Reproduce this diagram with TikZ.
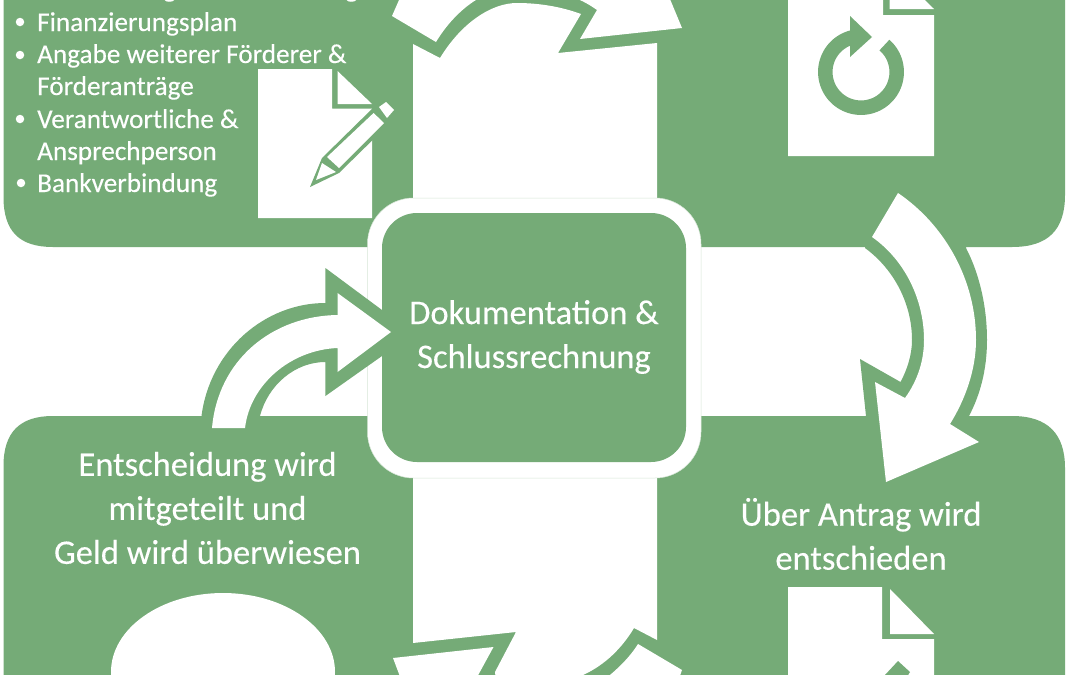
\documentclass[tikz,border=0pt]{standalone}
\usepackage{fontspec}
\usetikzlibrary{shapes.geometric}
\setmainfont[FakeBold=0.25]{Carlito}
\definecolor{gr}{HTML}{75AB77}
\tikzset{x=1pt,y=-1pt,
 panel/.style={fill=gr,draw=none},
 wh/.style={fill=white,draw=none},
 big/.style={text=white,font=\fontsize{34.5}{44}\selectfont,align=center,inner sep=0pt},
 small/.style={text=white,font=\fontsize{27.2}{32}\selectfont,anchor=base west,inner sep=0pt},
 bull/.style={circle,fill=white,inner sep=0pt,minimum size=8.5pt}}
\begin{document}
\begin{tikzpicture}
\useasboundingbox (0,0) rectangle (1080,675);
\clip (0,0) rectangle (1080,675);
\fill[white] (0,0) rectangle (1080,675);
% panels
\path[panel] (3.5,-10) -- (3.5,197) .. controls (3.5,232) and (20,247) .. (53,247) -- (413,247) -- (413,-10) -- cycle;
\path[panel] (413,-10) rectangle (657,60);
\path[panel] (657,-10) -- (657,247) -- (1012,247) .. controls (1048,247) and (1065,230) .. (1065,195) -- (1065,-10) -- cycle;
\path[panel] (3.5,685) -- (3.5,466) .. controls (3.5,432) and (20,416) .. (53,416) -- (413,416) -- (413,685) -- cycle;
\path[panel] (413,625) rectangle (657,685);
\path[panel] (657,685) -- (657,416) -- (1012,416) .. controls (1048,416) and (1065,434) .. (1065,468) -- (1065,685) -- cycle;
% centre white area
\path[wh] (413,44) -- (440,58) .. controls (462,22) and (492,3) .. (517,3) .. controls (540,3) and (562,7) .. (581,14) -- (558,53) -- (657,43) -- (657,640) -- (634,628) .. controls (622,648) and (605,665) .. (583,675) -- (583,690) -- (497,690) -- (495,672) -- (516,632) -- (413,643) -- cycle;
% top arrow
\path[wh] (392,16) -- (436,42) .. controls (448,22) and (465,5) .. (483,-4) -- (483,-20) -- (575,-20) -- (575,-2) .. controls (583,1) and (590,5) .. (597,10) -- (580,39) -- (682,28) -- (660,-25) -- (410,-25) -- cycle;
% bottom arrow
\path[wh] (393,658) -- (493.5,647) -- (470,690) -- (405,690) -- cycle;
\path[wh] (638,644) -- (682,670) -- (675,690) -- (590,690) .. controls (612,675) and (628,660) .. (638,644) -- cycle;
% centre frame
\path[fill=white,draw=gr!30,line width=.5pt,rounded corners=46pt] (367.5,198) rectangle (701,478);
\path[panel,rounded corners=35pt] (382,213) rectangle (686,462);
\node[big] (ctext) at (534,337) {Dokumentation \&\\Schlussrechnung};
% right arrow
\path[panel] (865,248) .. controls (895,270) and (912,305) .. (912,340) .. controls (912,355) and (907,370) .. (900.5,382) -- (860,359) -- (866,416) -- (969,416) .. controls (980,395) and (987,370) .. (987,340) .. controls (987,308) and (980,275) .. (966,248) -- (966,240) -- (865,240) -- cycle;
\path[wh] (898,193) .. controls (945,225) and (976,280) .. (976,340) .. controls (976,370) and (965,400) .. (950,424) -- (979,442) -- (886,482) -- (875,382) -- (905,398) .. controls (918,380) and (924,360) .. (924,340) .. controls (924,300) and (905,260) .. (872,237) -- cycle;
% left arrow
\path[panel] (201.5,416) .. controls (210,350) and (265,303) .. (325.4,303) -- (325.4,268) -- (382,310) -- (382,356) -- (325.4,396) -- (325.4,362) .. controls (295,362) and (268,385) .. (260,416) -- (260,420) -- (201.5,420) -- cycle;
\path[wh] (212,428) .. controls (218,360) and (272,316) .. (337.5,315) -- (337.5,293) -- (391,332) -- (337.5,372) -- (337.5,348) .. controls (290,350) and (250,385) .. (245,428) -- cycle;
% texts
\node[big] (t1) at (207.5,508) {Entscheidung wird\\mitgeteilt und\\Geld wird überwiesen};
\node[big] (t2) at (861,534) {Über Antrag wird\\entschieden};
\node[bull] (b1) at (20,22) {};
\node[bull] (b2) at (20,55) {};
\node[bull] (b3) at (20,119) {};
\node[bull] (b4) at (21,183) {};
\node[small] (l0) at (37,31) {Finanzierungsplan};
\node[small] (l1) at (37,63) {Angabe weiterer Förderer \&};
\node[small] (l2) at (37,95) {Förderanträge};
\node[small] (l3) at (37,128) {Verantwortliche \&};
\node[small] (l4) at (37,160) {Ansprechperson};
\node[small] (l5) at (37,192) {Bankverbindung};
\node[small] (g1) at (163,-3) {g};
\node[small] (g2) at (345,-3) {g};
% document with pencil
\path[wh] (258,69) -- (332,69) -- (332,108.5) -- (372,108.5) -- (372,218) -- (258,218) -- cycle;
\path[wh] (337.5,71) -- (372,104) -- (337.5,104) -- cycle;
\path[panel] (310,187) -- (322,158) -- (375,106) -- (392,121) -- (339,173) -- cycle;
\path[wh] (327,157) -- (373.6,113) -- (384,123) -- (339,168) -- cycle;
\path[wh] (316,180) -- (322,163) -- (336,172) -- cycle;
\path[wh] (379,107) -- (386,102) -- (394,110) -- (387,118) -- cycle;
% document with circular arrow
\path[wh] (788,-37) -- (883,-37) -- (883,15) -- (934,15) -- (934,156) -- (788,156) -- cycle;
\path[wh] (889.5,-35) -- (934,9) -- (889.5,9) -- cycle;
\draw[gr,line width=14.5pt,line join=round] plot[domain=49:-260,samples=80] ({861+35.7*cos(\x)},{72-35.7*sin(\x)});
\path[panel] (850,16) -- (872,37) -- (850,57) -- cycle;
% lower document
\path[wh] (788,587) -- (882,587) -- (882,639) -- (934,639) -- (934,780) -- (788,780) -- cycle;
\path[wh] (890,589) -- (934,634) -- (890,634) -- cycle;
\path[panel] (885,675) -- (898,661) -- (910,672) -- (905,680) -- (885,680) -- cycle;
% money oval
\node[wh,ellipse,minimum width=224pt,minimum height=158pt,inner sep=0pt] (oval) at (223,672) {};
\end{tikzpicture}
\end{document}
